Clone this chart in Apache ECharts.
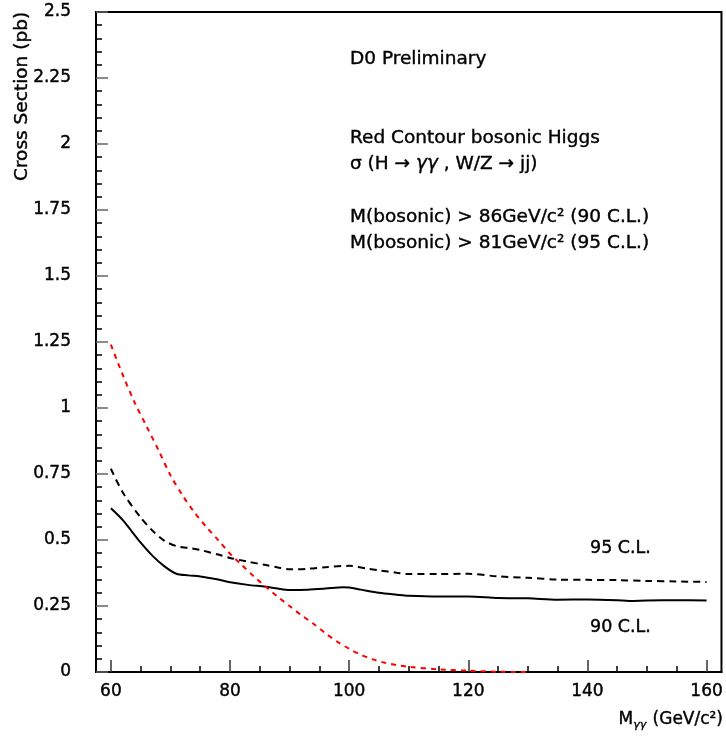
<!DOCTYPE html>
<html>
<head>
<meta charset="utf-8">
<script src="https://cdn.jsdelivr.net/npm/echarts@6/dist/echarts.min.js"></script>
<style>
  html, body { margin: 0; padding: 0; background: #fff; }
  #chart { width: 726px; height: 740px; }
</style>
</head>
<body>
<div id="chart"></div>
<script>
// 数据: [M_gg, cross section]
var cl90 = [[60,0.62],[62,0.575],[65,0.49],[67,0.44],[69,0.40],[71,0.372],[73,0.366],[75,0.362],[78,0.35],[80,0.34],[83,0.33],[86,0.323],[88,0.316],[90,0.311],[93,0.312],[96,0.316],[99,0.321],[100,0.32],[102,0.312],[105,0.300],[108,0.293],[110,0.289],[115,0.286],[120,0.286],[125,0.28],[130,0.279],[135,0.274],[140,0.275],[145,0.272],[147,0.269],[150,0.271],[155,0.272],[160,0.271]];
var cl95 = [[60,0.77],[62,0.68],[65,0.585],[67,0.535],[69,0.497],[71,0.477],[73,0.47],[75,0.462],[78,0.445],[80,0.432],[83,0.418],[86,0.405],[88,0.396],[90,0.389],[93,0.391],[96,0.397],[100,0.402],[103,0.392],[105,0.385],[108,0.376],[110,0.371],[115,0.371],[120,0.372],[125,0.362],[130,0.357],[135,0.35],[140,0.349],[145,0.348],[150,0.345],[155,0.343],[160,0.341]];
var redContour = [[60,1.24],[62,1.125],[64,1.02],[66,0.93],[68,0.84],[70,0.745],[72,0.67],[74,0.605],[76,0.55],[78,0.5],[80,0.448],[82,0.405],[84,0.362],[86,0.323],[88,0.285],[90,0.25],[92,0.215],[94,0.183],[96,0.147],[98,0.115],[100,0.088],[102,0.065],[104,0.048],[106,0.035],[108,0.026],[110,0.02],[115,0.01],[120,0.005],[125,0.001],[130,0]];
var xMajor = [60, 80, 100, 120, 140, 160];
var xMinor = [65, 70, 75, 85, 90, 95, 105, 110, 115, 125, 130, 135, 145, 150, 155];
var notes = [
    "D0 Preliminary",
    "Red Contour bosonic Higgs",
    "σ (H → {it|γγ} , W/Z → jj)",
    "M(bosonic) > 86GeV/c² (90 C.L.)",
    "M(bosonic) > 81GeV/c² (95 C.L.)"
];
var noteY = [59, 138, 164, 217, 243];

var fontFamily = "DejaVu Sans";
var chart = echarts.init(document.getElementById("chart"));

// 文字稍微加粗
function txt(extra) {
    var s = { fontFamily: fontFamily, fill: "#000", stroke: "#000", lineWidth: 0.4 };
    for (var k in extra) s[k] = extra[k];
    return s;
}

var graphics = notes.map(function (t, i) {
    return {
        type: "text", x: 350, y: noteY[i],
        style: txt({ text: t, fontSize: 18.5, verticalAlign: "middle",
                     rich: { it: { fontStyle: "italic", fontSize: 18.5, fontFamily: fontFamily } } })
    };
});
graphics.push({
    type: "text", x: 590, y: 548,
    style: txt({ text: "95 C.L.", fontSize: 17.5, verticalAlign: "middle" })
});
graphics.push({
    type: "text", x: 590, y: 627,
    style: txt({ text: "90 C.L.", fontSize: 17.5, verticalAlign: "middle" })
});
graphics.push({
    type: "text", x: 723, y: 720,
    style: txt({ text: "M{sub|γγ} (GeV/c²)", fontSize: 17, align: "right", verticalAlign: "middle",
                 rich: { sub: { fontSize: 11, fontStyle: "italic", fontFamily: fontFamily, padding: [10, 1, 0, 0] } } })
});
graphics.push({
    type: "text", x: 22, y: 181, rotation: Math.PI / 2,
    style: txt({ text: "Cross Section (pb)", fontSize: 18.5, align: "left", verticalAlign: "middle" })
});

var labelStyle = { color: "#000", fontSize: 17, fontFamily: fontFamily, textBorderColor: "#000", textBorderWidth: 0.4 };

var option = {
    animation: false,
    backgroundColor: "#fff",
    grid: { left: 96, top: 12, right: 4, bottom: 68, show: true,
            borderColor: "#000", borderWidth: 2, backgroundColor: "transparent" },
    xAxis: [
        {
            type: "value", min: 57.5, max: 162.5,
            axisLine: { lineStyle: { color: "#000", width: 2 } },
            axisTick: { inside: true, length: 12, customValues: xMajor, lineStyle: { color: "#333", width: 1.5 } },
            axisLabel: Object.assign({ customValues: xMajor, margin: 11 }, labelStyle),
            splitLine: { show: false }
        },
        {
            type: "value", min: 57.5, max: 162.5, position: "bottom",
            axisLine: { show: false },
            axisTick: { inside: true, length: 6, customValues: xMinor, lineStyle: { color: "#000", width: 1.5 } },
            axisLabel: { show: false },
            splitLine: { show: false }
        }
    ],
    yAxis: {
        type: "value", min: 0, max: 2.5, interval: 0.25,
        axisLine: { show: true, lineStyle: { color: "#000", width: 2 } },
        axisTick: { show: true, inside: true, length: 12, lineStyle: { color: "#666", width: 1.5 } },
        minorTick: { show: true, splitNumber: 5, length: 6, lineStyle: { color: "#000", width: 1.5 } },
        axisLabel: Object.assign({ margin: 25 }, labelStyle),
        splitLine: { show: false }
    },
    series: [
        {
            type: "line", data: cl90, showSymbol: false, smooth: 0.3,
            lineStyle: { color: "#000", width: 2 }
        },
        {
            type: "line", data: cl95, showSymbol: false, smooth: 0.3,
            lineStyle: { color: "#000", width: 2, type: [7, 5] }
        },
        {
            type: "line", data: redContour, showSymbol: false, smooth: 0.3,
            lineStyle: { color: "#ff0000", width: 2, type: [5, 5] }
        }
    ],
    graphic: graphics
};
chart.setOption(option);
</script>
</body>
</html>
